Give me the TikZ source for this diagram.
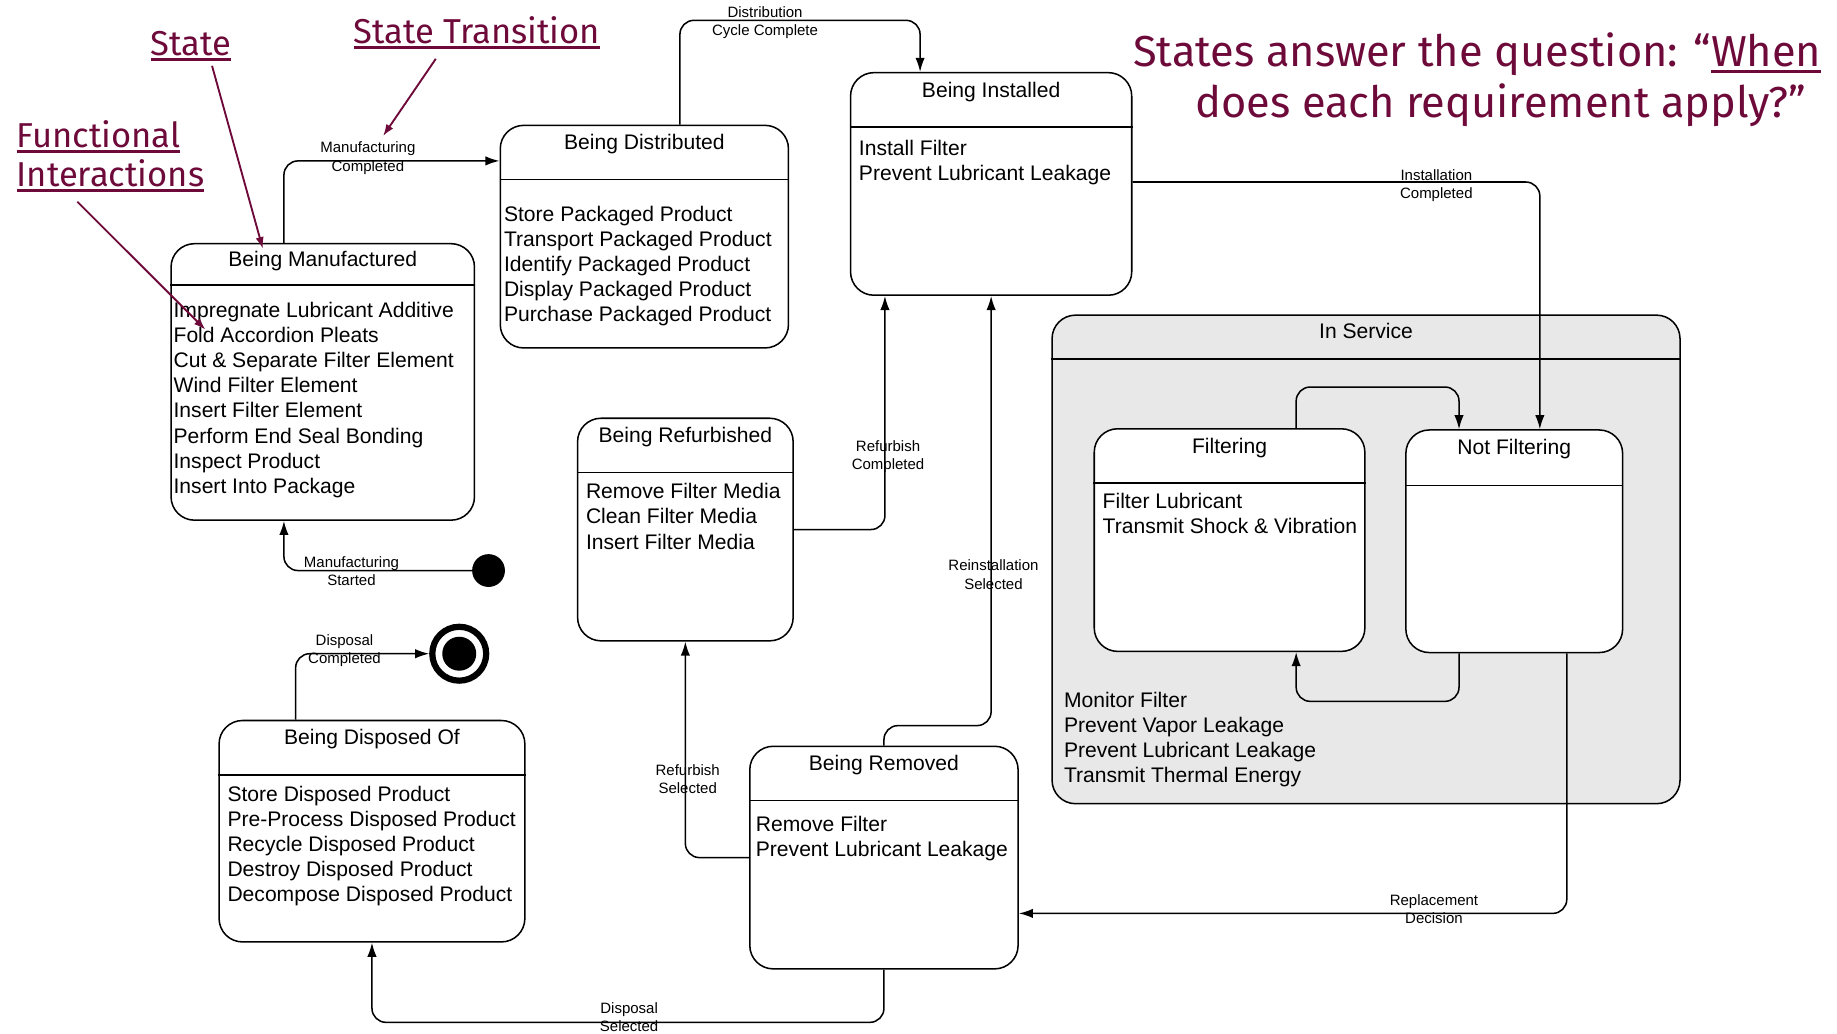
\documentclass[tikz,border=0pt]{standalone}
\usepackage{fontspec}
\setmainfont{Liberation Sans}
\newfontfamily\notefont{Fira Sans}
\usepackage{tikz}
\usetikzlibrary{arrows.meta}
\usepackage{xcolor}
\definecolor{plum}{RGB}{110,10,58}
\newcommand{\uln}[1]{\setbox0=\hbox{#1}\rlap{\rule[-5pt]{\wd0}{2.6pt}}\box0}

\begin{document}
\begin{tikzpicture}[x=1pt, y=-1pt,
    state/.style={rectangle, draw, line width=1.3pt, rounded corners=20pt, fill=white, inner sep=0pt},
    divider/.style={line width=1.3pt},
    title/.style={anchor=base, inner sep=0pt, font=\fontsize{18}{21.5}\selectfont},
    items/.style={anchor=north west, align=left, inner sep=0pt, font=\fontsize{18}{21.5}\selectfont},
    trans/.style={line width=1.3pt, rounded corners=12pt, -{Latex[length=12pt,width=8pt]}},
    lbl/.style={align=center, inner sep=0pt, font=\fontsize{12.8}{15.5}\selectfont},
    note/.style={text=plum, inner sep=0pt, font=\notefont\fontsize{29.5}{33}\selectfont},
    pointer/.style={plum, line width=1.6pt, -{Latex[length=10pt,width=7pt]}}
]
    \useasboundingbox (0,0) rectangle (1568,882);

    % In Service (composite state)
    \node[state, fill=gray!18, minimum width=536pt, minimum height=417pt] (service) at (1166,477.5) {};
    \node[title] (serviceT) at ([yshift=-20.5pt]service.north) {In Service};
    \draw[divider] ([yshift=-38pt]service.north west) -- ([yshift=-38pt]service.north east);
    \node[items] (serviceL) at (908,590.5) {Monitor Filter\\Prevent Vapor Leakage\\Prevent Lubricant Leakage\\Transmit Thermal Energy};

    % Filtering
    \node[state, minimum width=231pt, minimum height=190pt] (filt) at (1049.5,461) {};
    \node[title] (filtT) at ([yshift=-21.5pt]filt.north) {Filtering};
    \draw[divider] ([yshift=-47pt]filt.north west) -- ([yshift=-47pt]filt.north east);
    \node[items] (filtL) at (941,420.5) {Filter Lubricant\\Transmit Shock \& Vibration};

    % Not Filtering
    \node[state, minimum width=185pt, minimum height=190pt] (notfilt) at (1292.5,462) {};
    \node[title] (notfiltT) at ([yshift=-21.5pt]notfilt.north) {Not Filtering};
    \draw[divider] ([yshift=-48pt]notfilt.north west) -- ([yshift=-48pt]notfilt.north east);

    % Being Manufactured
    \node[state, minimum width=259pt, minimum height=236pt] (mfg) at (275.5,326) {};
    \node[title] (mfgT) at ([yshift=-20.5pt]mfg.north) {Being Manufactured};
    \draw[divider] ([yshift=-36pt]mfg.north west) -- ([yshift=-36pt]mfg.north east);
    \node[items] (mfgL) at (148,257.5) {Impregnate Lubricant Additive\\Fold Accordion Pleats\\Cut \& Separate Filter Element\\Wind Filter Element\\Insert Filter Element\\Perform End Seal Bonding\\Inspect Product\\Insert Into Package};

    % Being Distributed
    \node[state, minimum width=246pt, minimum height=190pt] (dist) at (550,202) {};
    \node[title] (distT) at ([yshift=-21.5pt]dist.north) {Being Distributed};
    \draw[divider] ([yshift=-47pt]dist.north west) -- ([yshift=-47pt]dist.north east);
    \node[items] (distL) at (430,175.5) {Store Packaged Product\\Transport Packaged Product\\Identify Packaged Product\\Display Packaged Product\\Purchase Packaged Product};

    % Being Installed
    \node[state, minimum width=240pt, minimum height=190pt] (inst) at (846,157) {};
    \node[title] (instT) at ([yshift=-21.5pt]inst.north) {Being Installed};
    \draw[divider] ([yshift=-47pt]inst.north west) -- ([yshift=-47pt]inst.north east);
    \node[items] (instL) at (733,119.5) {Install Filter\\Prevent Lubricant Leakage};

    % Being Refurbished
    \node[state, minimum width=184pt, minimum height=190pt] (refurb) at (585,452) {};
    \node[title] (refurbT) at ([yshift=-21.5pt]refurb.north) {Being Refurbished};
    \draw[divider] ([yshift=-47pt]refurb.north west) -- ([yshift=-47pt]refurb.north east);
    \node[items] (refurbL) at (500,412.5) {Remove Filter Media\\Clean Filter Media\\Insert Filter Media};

    % Being Removed
    \node[state, minimum width=229pt, minimum height=190pt] (remv) at (754.5,732) {};
    \node[title] (remvT) at ([yshift=-21.5pt]remv.north) {Being Removed};
    \draw[divider] ([yshift=-47pt]remv.north west) -- ([yshift=-47pt]remv.north east);
    \node[items] (remvL) at (645,696.5) {Remove Filter\\Prevent Lubricant Leakage};

    % Being Disposed Of
    \node[state, minimum width=261pt, minimum height=189pt] (disp) at (317.5,709.5) {};
    \node[title] (dispT) at ([yshift=-21.5pt]disp.north) {Being Disposed Of};
    \draw[divider] ([yshift=-47pt]disp.north west) -- ([yshift=-47pt]disp.north east);
    \node[items] (dispL) at (194,670.5) {Store Disposed Product\\Pre-Process Disposed Product\\Recycle Disposed Product\\Destroy Disposed Product\\Decompose Disposed Product};

    % Initial and final states
    \node[circle, fill, minimum size=28pt, inner sep=0pt] (init) at (417,487) {};
    \node[circle, draw, line width=5.3pt, minimum size=46pt, inner sep=0pt] (final) at (392,558) {};
    \node[circle, fill, minimum size=29pt, inner sep=0pt] (finalDot) at (final) {};

    % Transitions
    \draw[trans] (init.west) -| ([xshift=97pt]mfg.south west);
    \node[lbl] (lblMS) at (300,487.5) {Manufacturing\\Started};
    \draw[trans] ([xshift=97pt]mfg.north west) |- ([yshift=-31pt]dist.north west);
    \node[lbl] (lblMC) at (314,135) {Manufacturing\\Completed};
    \draw[trans] ([xshift=154pt]dist.north west) -- ++(0,-89) -| ([xshift=60pt]inst.north west);
    \node[lbl] (lblDC) at (653,19.5) {Distribution\\Cycle Complete};
    \draw[trans] ([yshift=-94pt]inst.north east) -| ([xshift=115pt]notfilt.north west);
    \node[lbl] (lblIC) at (1226,158.5) {Installation\\Completed};
    \draw[trans] ([xshift=173pt]filt.north west) -- ++(0,-35) -| ([xshift=46pt]notfilt.north west);
    \draw[trans] ([xshift=46pt]notfilt.south west) -- ++(0,41) -| ([xshift=173pt]filt.south west);
    \draw[trans] ([xshift=138pt]notfilt.south west) |- ([yshift=48pt]remv.south east);
    \node[lbl] (lblRD) at (1224,776) {Replacement\\Decision};
    \draw[trans] (remv.north) -- ++(0,-17) -| (inst.south);
    \node[lbl] (lblRS) at (848,490.5) {Reinstallation\\Selected};
    \draw[trans] (refurb.east) -| ([xshift=30pt]inst.south west);
    \node[lbl] (lblRC) at (758,389.5) {Refurbish\\Completed};
    \draw[trans] (remv.west) -| (refurb.south);
    \node[lbl] (lblRF) at (587,665) {Refurbish\\Selected};
    \draw[trans] (remv.south) -- ++(0,45) -| (disp.south);
    \node[lbl] (lblDS) at (537,868.5) {Disposal\\Selected};
    \draw[trans] ([xshift=66pt]disp.north west) |- (final.west);
    \node[lbl] (lblDP) at (294,555.5) {Disposal\\Completed};

    % Annotations
    \node[note, anchor=base] (stateN) at (163,47) {\uln{State}};
    \node[note, anchor=base] (transN) at (407,37) {\uln{State Transition}};
    \node[note, anchor=base west] (funcN1) at (14,126) {\uln{Functional}};
    \node[note, anchor=base west] (funcN2) at (14,159) {\uln{Interactions}};
    \node[note, anchor=base, font=\notefont\fontsize{37}{43}\selectfont] (qline1) at (1261,57) {States answer the question: “\uln{When}};
    \node[note, anchor=base, font=\notefont\fontsize{37}{43}\selectfont] (qline2) at (1281,100) {does each requirement apply?”};

    % Pointers
    \draw[pointer] ([xshift=18pt, yshift=-4pt]stateN.south) -- ([xshift=79pt, yshift=-5pt]mfg.north west);
    \draw[pointer] ([xshift=-35pt, yshift=-8pt]transN.south) -- ([xshift=13pt, yshift=5pt]lblMC.north);
    \draw[pointer] ([xshift=52pt, yshift=-8pt]funcN2.south west) -- ([xshift=30pt, yshift=-74pt]mfg.north west);
\end{tikzpicture}
\end{document}
